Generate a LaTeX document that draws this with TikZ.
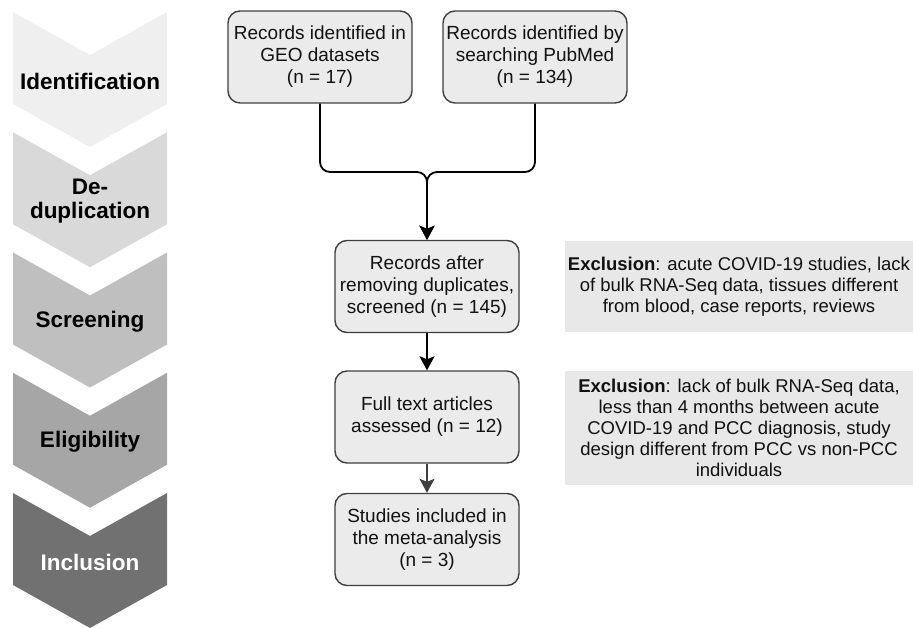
\documentclass[tikz,border=0pt]{standalone}
\usepackage{fontspec}
\setmainfont{Liberation Sans}
\usepackage{tikz}
\usetikzlibrary{arrows.meta,positioning,calc}
\definecolor{cInk}{HTML}{111111}
\definecolor{cEdge}{HTML}{3F3F3F}
\definecolor{cBoxFill}{HTML}{EBEBEB}
\definecolor{cNote}{HTML}{E8E8E8}
\definecolor{cStepA}{HTML}{EFEFEF}
\definecolor{cStepB}{HTML}{D9D9D9}
\definecolor{cStepC}{HTML}{BFBFBF}
\definecolor{cStepD}{HTML}{A6A6A6}
\definecolor{cStepE}{HTML}{717171}
\tikzset{
  fbox/.style={draw=cEdge,fill=cBoxFill,rounded corners=12pt,line width=1.4pt,align=center,font=\fontsize{19}{22}\selectfont,minimum width=184pt,minimum height=92pt,inner sep=2pt,text=cInk},
  nbox/.style={fill=cNote,align=center,font=\fontsize{18.5}{21}\selectfont,minimum width=348pt,inner sep=0pt,text=cInk},
  arr/.style={-{Stealth[length=14pt,width=15pt,inset=3pt]},line width=1.8pt,color=black},
  garr/.style={-{Stealth[length=14pt,width=15pt,inset=3pt]},line width=1.6pt,color=cEdge},
  stage/.style={font=\fontsize{22.5}{23.5}\selectfont\bfseries,align=center},
}

\begin{document}
\begin{tikzpicture}[x=1pt,y=-1pt]
    \useasboundingbox (0,0) rectangle (913,628);
    % stages on the left
    \foreach \y/\c/\t/\tc [count=\i] in {12/cStepA/{Identification}/black, 132.25/cStepB/{De-\\duplication}/black, 252.5/cStepC/{Screening}/black, 372.75/cStepD/{Eligibility}/black, 493/cStepE/{Inclusion}/white}{
      \fill[\c] (13,\y) -- (90,\y+43) -- (167,\y) -- (167,\y+92) -- (90,\y+135) -- (13,\y+92) -- cycle;
      \node[stage,text=\tc] (stage-\i) at (90,\y+69) {\t};}
    % flow
    \node[fbox] (geo) at (320,57) {Records identified in\\GEO datasets\\(n = 17)};
    \node[fbox] (pub) at (535,57) {Records identified by\\searching PubMed\\(n = 134)};
    \node[fbox] (screen) at (427,286.5) {Records after\\removing duplicates,\\screened (n = 145)};
    \node[fbox] (full) at (427,417) {Full text articles\\assessed (n = 12)};
    \node[fbox] (incl) at (427,539.5) {Studies included in\\the meta-analysis\\(n = 3)};
    \coordinate (join) at (427,172);
    \draw[arr,rounded corners=10pt] (geo.south) |- (join) -- (screen.north);
    \draw[arr,rounded corners=10pt] (pub.south) |- (join) -- (screen.north);
    \draw[arr] (screen) -- (full);
    \draw[garr] (full) -- (incl);
    % exclusions
    \node[nbox,minimum height=91pt] (excl-a) at (739,286.5) {\textbf{Exclusion}: acute COVID-19 studies, lack\\of bulk RNA-Seq data, tissues different\\from blood, case reports, reviews};
    \node[nbox,minimum height=114pt] (excl-b) at (739,428) {\textbf{Exclusion}: lack of bulk RNA-Seq data,\\less than 4 months between acute\\COVID-19 and PCC diagnosis, study\\design different from PCC vs non-PCC\\individuals};
  \end{tikzpicture}
\end{document}
